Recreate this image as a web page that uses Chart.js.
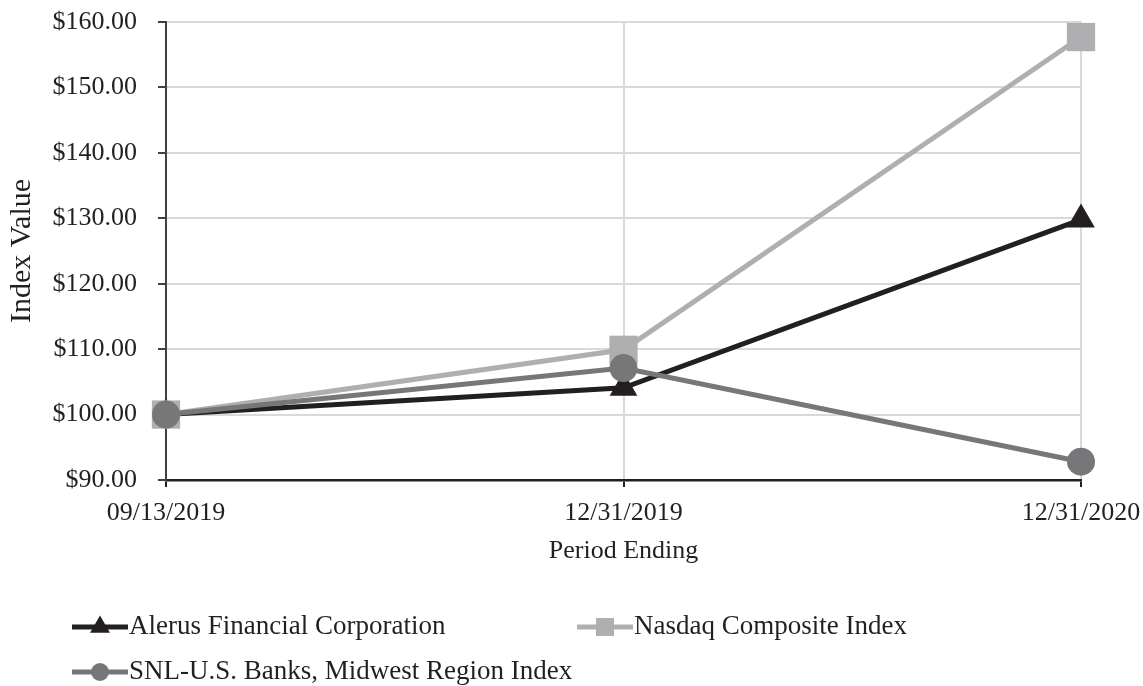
<!DOCTYPE html>
<html>
<head>
<meta charset="utf-8">
<script src="https://cdn.jsdelivr.net/npm/chart.js@4"></script>
<style>
  html, body { margin: 0; padding: 0; background: #fff; }
  .chart-box { width: 1143px; height: 686px; position: relative; }
</style>
</head>
<body>
<div class="chart-box"><canvas id="chart"></canvas></div>
<script>
const periods = ['09/13/2019', '12/31/2019', '12/31/2020'];
const alerus = [100, 104.1, 129.8];
const nasdaq = [100, 109.9, 157.7];
const snlMidwest = [100, 107.1, 92.8];
const seriesNames = ['Alerus Financial Corporation', 'Nasdaq Composite Index', 'SNL-U.S. Banks, Midwest Region Index'];

const FONT = 'Liberation Serif, Times New Roman, serif';
const TEXT = '#231f20';

// legend drawn on the canvas: line + marker, like the spreadsheet one
const legendSpots = [{ x: 72, y: 627 }, { x: 577, y: 627 }, { x: 72, y: 672 }];
const legendMarkerRadius = [11.5, 12.7, 9];

const sheetLegend = {
    id: 'sheetLegend',
    afterDraw: (chart) => {
        const { ctx } = chart;
        chart.data.datasets.forEach((ds, i) => {
            const spot = legendSpots[i];
            ctx.save();
            ctx.strokeStyle = ds.borderColor;
            ctx.fillStyle = ds.borderColor;
            ctx.lineWidth = 5;
            ctx.beginPath();
            ctx.moveTo(spot.x, spot.y);
            ctx.lineTo(spot.x + 56, spot.y);
            ctx.stroke();
            Chart.helpers.drawPoint(ctx, {
                pointStyle: ds.pointStyle,
                radius: legendMarkerRadius[i],
                rotation: 0,
                borderWidth: 0
            }, spot.x + 28, spot.y);
            ctx.font = '27px ' + FONT;
            ctx.fillStyle = TEXT;
            ctx.textBaseline = 'middle';
            ctx.textAlign = 'left';
            ctx.fillText(seriesNames[i], spot.x + 57, spot.y);
            ctx.restore();
        });
    }
};

new Chart(document.getElementById('chart'), {
    type: 'line',
    data: {
        labels: periods,
        datasets: [{
            label: seriesNames[0],
            data: alerus,
            borderColor: '#231f20',
            backgroundColor: '#231f20',
            borderWidth: 5,
            pointStyle: 'triangle',
            pointRadius: 16,
            pointBorderWidth: 0,
            tension: 0,
            clip: false,
            order: 3
        }, {
            label: seriesNames[1],
            data: nasdaq,
            borderColor: '#afafb1',
            backgroundColor: '#afafb1',
            borderWidth: 5,
            pointStyle: 'rect',
            pointRadius: 20,
            pointBorderWidth: 0,
            tension: 0,
            clip: false,
            order: 2
        }, {
            label: seriesNames[2],
            data: snlMidwest,
            borderColor: '#77777a',
            backgroundColor: '#77777a',
            borderWidth: 5,
            pointStyle: 'circle',
            pointRadius: 14,
            pointBorderWidth: 0,
            tension: 0,
            clip: false,
            order: 1
        }]
    },
    options: {
        responsive: true,
        maintainAspectRatio: false,
        animation: false,
        layout: {
            autoPadding: false,
            padding: { left: 0, right: 62, top: 22, bottom: 116 }
        },
        plugins: {
            legend: { display: false },
            tooltip: { enabled: false }
        },
        scales: {
            x: {
                afterFit: (scale) => {
                    scale.height = 90;
                    scale.paddingLeft = 0;
                    scale.paddingRight = 0;
                },
                grid: {
                    color: '#d9d9d9',
                    lineWidth: 2,
                    tickColor: '#231f20',
                    tickLength: 7
                },
                border: { color: '#231f20', width: 2.5 },
                ticks: {
                    color: TEXT,
                    padding: 11,
                    maxRotation: 0,
                    font: { family: FONT, size: 26 }
                },
                title: {
                    display: true,
                    text: 'Period Ending',
                    color: TEXT,
                    padding: { top: 0, bottom: 3 },
                    font: { family: FONT, size: 26 }
                }
            },
            y: {
                min: 90,
                max: 160,
                afterFit: (scale) => {
                    scale.width = 166;
                    scale.paddingTop = 0;
                    scale.paddingBottom = 0;
                },
                grid: {
                    color: '#d9d9d9',
                    lineWidth: 2,
                    tickColor: '#404040',
                    tickLength: 8
                },
                border: { color: '#404040', width: 2 },
                ticks: {
                    stepSize: 10,
                    color: TEXT,
                    padding: 21,
                    font: { family: FONT, size: 26 },
                    callback: (v) => '$' + Number(v).toFixed(2)
                },
                title: {
                    display: true,
                    text: 'Index Value',
                    color: TEXT,
                    padding: { top: 4, bottom: 0 },
                    font: { family: FONT, size: 30 }
                }
            }
        }
    },
    plugins: [sheetLegend]
});
</script>
</body>
</html>
